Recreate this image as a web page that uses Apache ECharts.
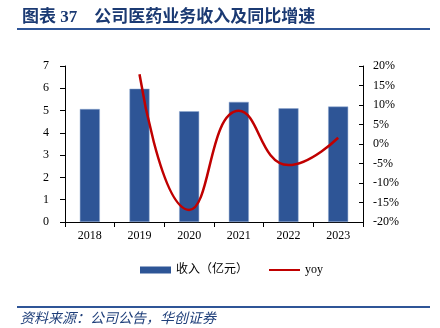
<!DOCTYPE html>
<html><head><meta charset="utf-8">
<script src="https://cdn.jsdelivr.net/npm/echarts@6/dist/echarts.min.js"></script>
<style>html,body{margin:0;padding:0;background:#fff}#c{width:440px;height:328px}</style>
</head><body><div id="c"></div>
<script>
const categories = ['2018','2019','2020','2021','2022','2023'];
const revenue = [5.07, 5.98, 4.97, 5.39, 5.10, 5.18];
const yoy = [null, 17.9, -16.9, 8.5, -5.4, 1.6];
const leftTicks = [0,1,2,3,4,5,6,7];
const rightTicks = [-20,-15,-10,-5,0,5,10,15,20];
const titleText = '图表 37\u3000公司医药业务收入及同比增速';
const sourceText = '资料来源：公司公告，华创证券';
const seriesNames = ['收入（亿元）','yoy'];

const serif = '"Liberation Serif","Times New Roman",serif';
const cjk = '"Liberation Serif","Noto Sans CJK SC",serif';
const chart = echarts.init(document.getElementById('c'), null, {renderer:'canvas'});
chart.setOption({
  animation:false,
  title:{text:titleText,left:17,top:4,textStyle:{fontSize:17,fontWeight:'bold',color:'#1B3A73',fontFamily:cjk}},
  graphic:[
    {type:'rect',shape:{x:17,y:28,width:413,height:2},style:{fill:'#2F5597'}},
    {type:'rect',shape:{x:17,y:306,width:413,height:2},style:{fill:'#2F5597'}},
    {type:'text',left:20,top:312,style:{text:sourceText,fontSize:14,fontStyle:'italic',fill:'#1F3F7A',fontFamily:cjk}}
  ],
  legend:{left:135,top:259,itemWidth:31,itemHeight:7,itemGap:20,
    textStyle:{fontSize:12,color:'#000',fontFamily:cjk},
    data:[{name:seriesNames[0],icon:'rect',itemStyle:{borderWidth:0}},
          {name:seriesNames[1],itemStyle:{color:'rgba(0,0,0,0)',borderWidth:0,opacity:0}}]},
  grid:{left:65,right:77,top:66,bottom:106},
  xAxis:{type:'category',data:categories,
    axisLine:{lineStyle:{color:'#000',width:1}},
    axisTick:{show:true,alignWithLabel:false,length:5,lineStyle:{color:'#000'}},
    axisLabel:{color:'#000',fontSize:12,fontFamily:serif,margin:8}},
  yAxis:[
    {type:'value',min:leftTicks[0],max:leftTicks[leftTicks.length-1],interval:1,
     axisLine:{show:true,lineStyle:{color:'#000'}},
     axisTick:{show:true,length:5,lineStyle:{color:'#000'}},
     splitLine:{show:false},
     axisLabel:{color:'#000',fontSize:12,fontFamily:serif,margin:16}},
    {type:'value',min:rightTicks[0],max:rightTicks[rightTicks.length-1],interval:5,position:'right',
     axisLine:{show:true,lineStyle:{color:'#000'}},
     axisTick:{show:true,inside:true,length:4,lineStyle:{color:'#000'}},
     splitLine:{show:false},
     axisLabel:{color:'#000',fontSize:12,fontFamily:serif,margin:10,formatter:v=>v+'%'}}
  ],
  series:[
    {name:seriesNames[0],type:'bar',data:revenue,barWidth:20,yAxisIndex:0,
     itemStyle:{color:'#2E5596',borderColor:'#8FA8D0',borderWidth:0.5}},
    {name:seriesNames[1],type:'line',data:yoy,yAxisIndex:1,smooth:0.5,symbol:'none',showSymbol:false,
     lineStyle:{color:'#C00000',width:2.5},itemStyle:{color:'#C00000'}}
  ]
});
</script></body></html>
